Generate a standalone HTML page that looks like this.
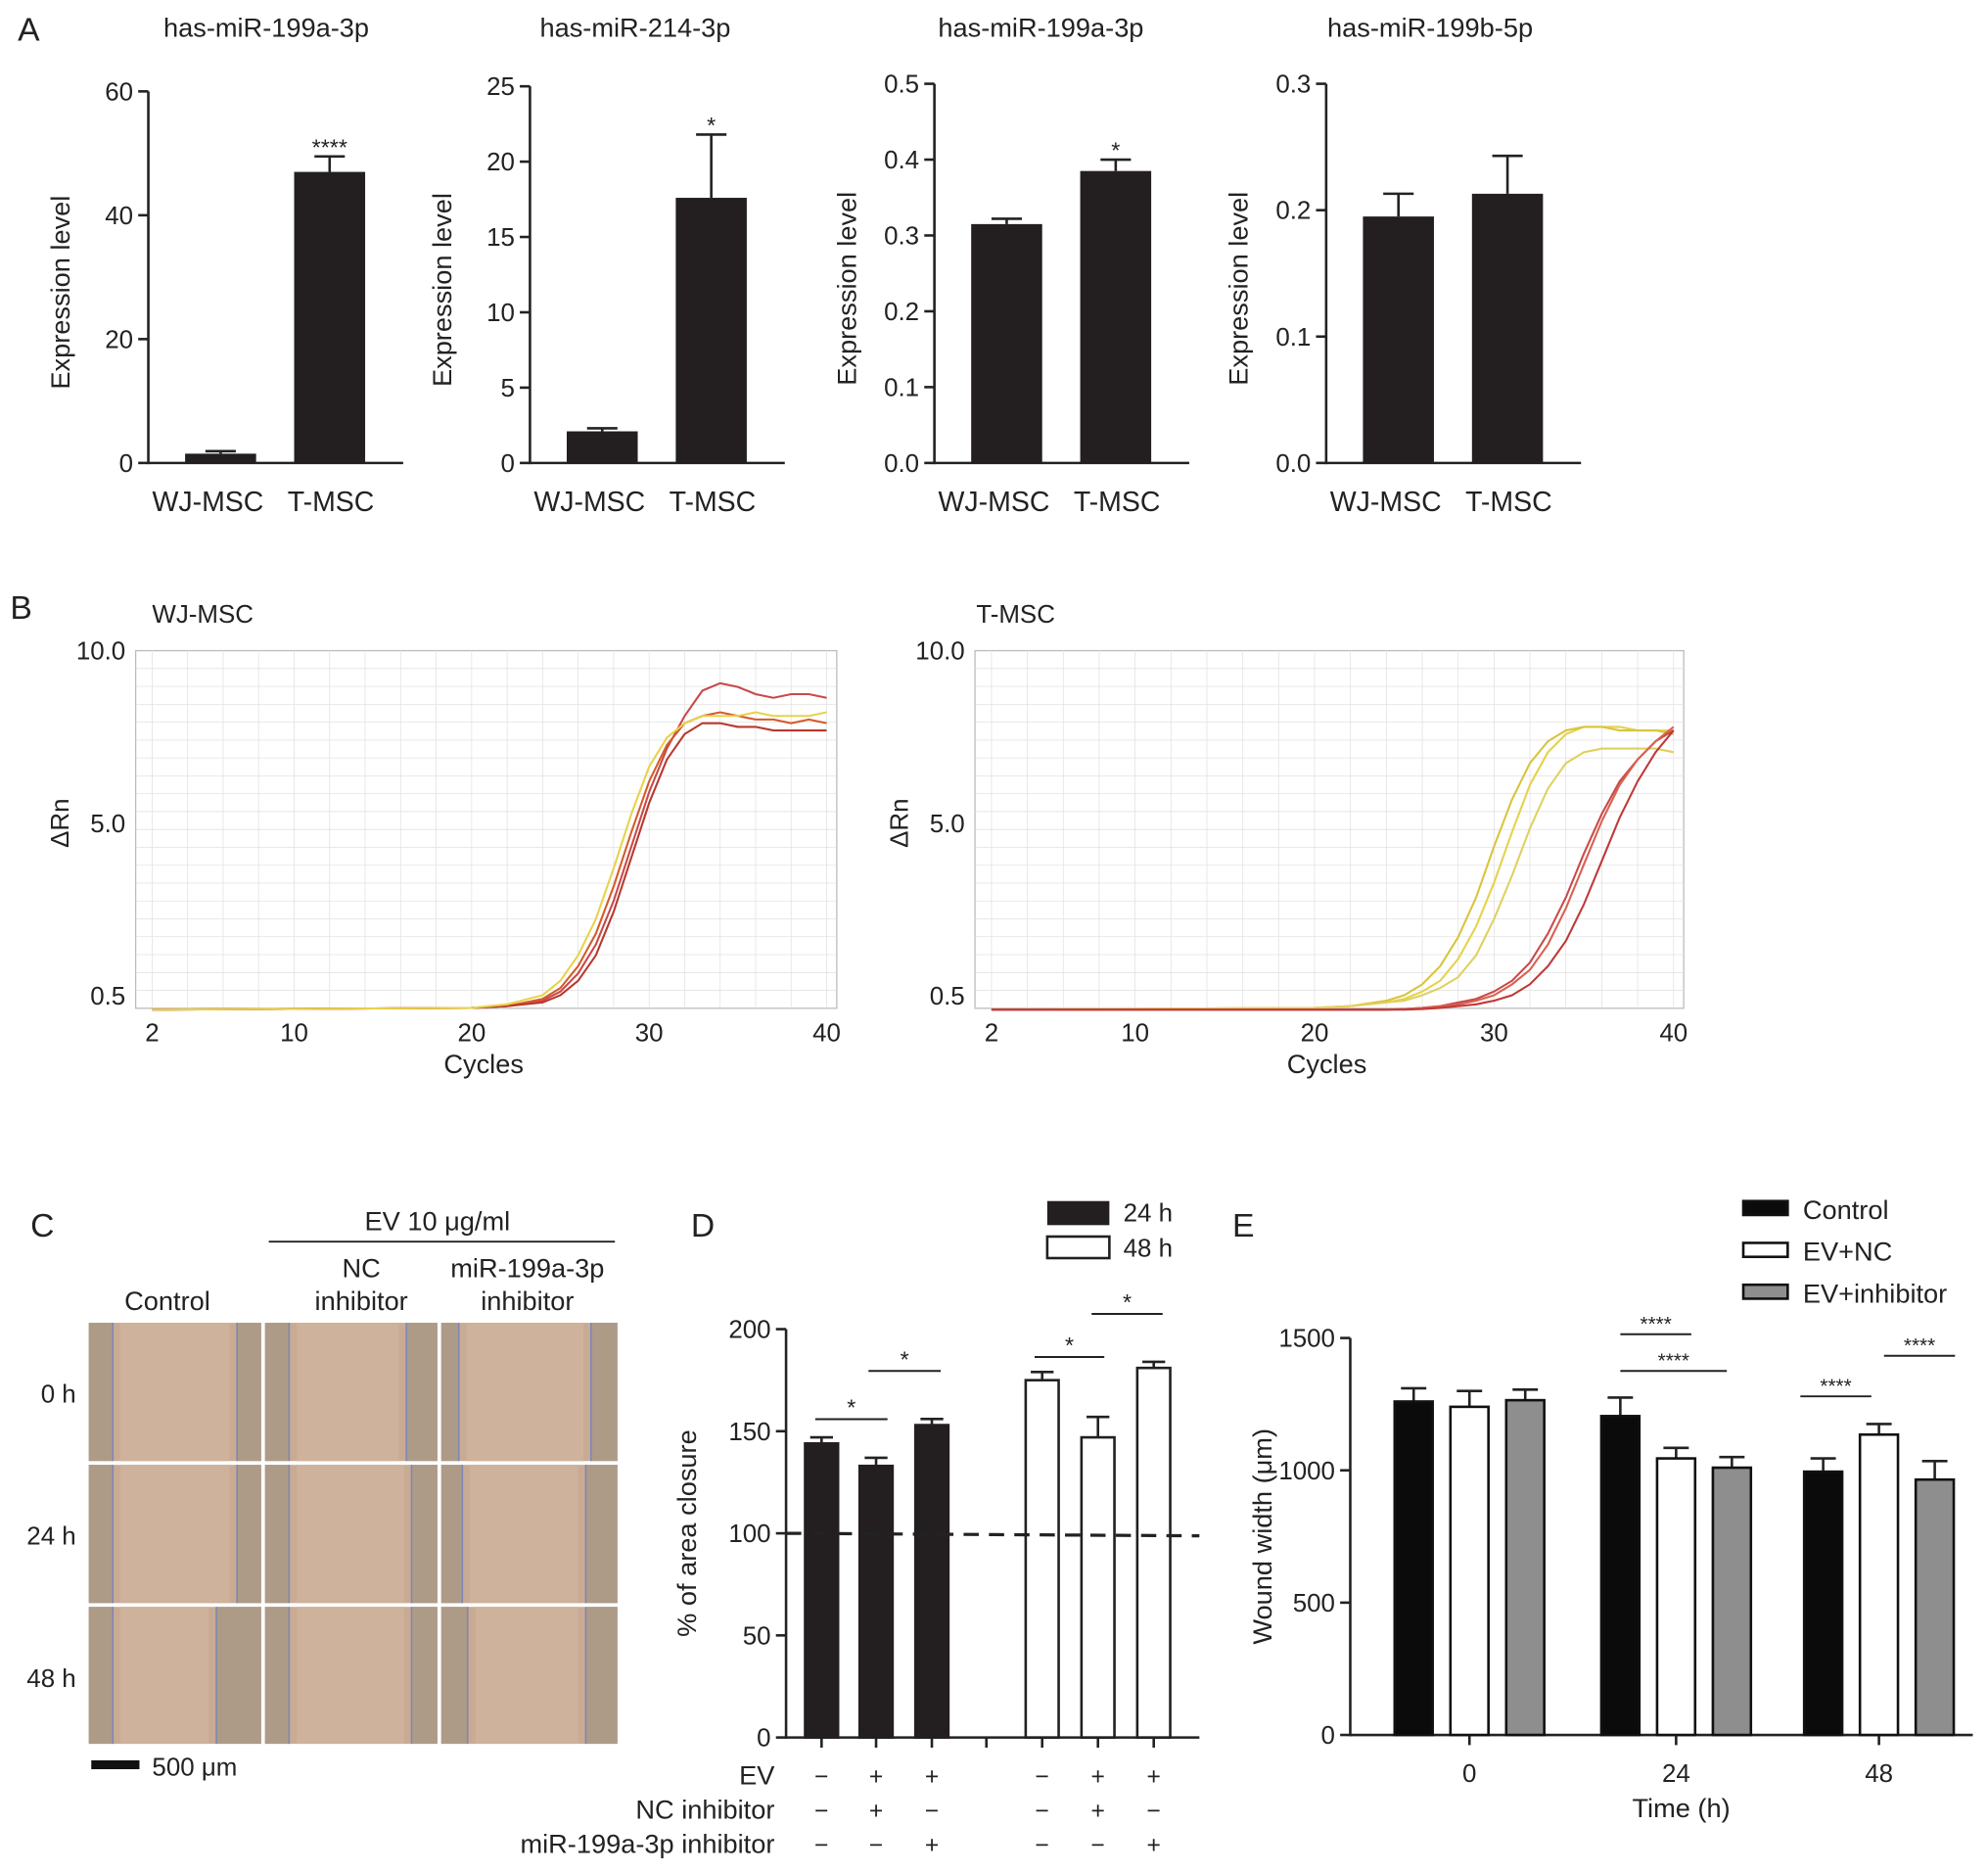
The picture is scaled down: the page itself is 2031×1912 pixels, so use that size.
<!DOCTYPE html>
<html><head><meta charset="utf-8"><style>
html,body{margin:0;padding:0;background:#fff}
svg{display:block}
text{font-family:"Liberation Sans",Arial,sans-serif;fill:#222}
</style></head><body>
<svg id="fig" width="2031" height="1912" viewBox="0 0 1568 1476" xmlns="http://www.w3.org/2000/svg">
<g id="root"></g>
</svg>
<script>
// ---------- DATA ----------
const aTitles = ["has-miR-199a-3p","has-miR-214-3p","has-miR-199a-3p","has-miR-199b-5p"];
const aCategories = ["WJ-MSC","T-MSC"];
const aValues = [[1.5,47],[2.1,17.6],[0.315,0.385],[0.195,0.213]];
const aErrors = [[1.9,49.5],[2.3,21.8],[0.322,0.4],[0.213,0.243]];
const aMax = [60,25,0.5,0.3];
const aTicks = [[0,20,40,60],[0,5,10,15,20,25],[0,0.1,0.2,0.3,0.4,0.5],[0,0.1,0.2,0.3]];
const aTickLabels = [["0","20","40","60"],["0","5","10","15","20","25"],["0.0","0.1","0.2","0.3","0.4","0.5"],["0.0","0.1","0.2","0.3"]];
const aStars = ["****","*","*",""];

const bCycles = [2,20,22,24,25,26,27,28,29,30,31,32,33,34,35,36,37,38,39,40];
const bWJ = [
 [0.1,0.15,0.2,0.35,0.6,1.1,1.9,3.1,4.6,6.1,7.3,8.2,8.9,9.1,9.0,8.8,8.7,8.8,8.8,8.7],
 [0.1,0.15,0.2,0.4,0.7,1.3,2.2,3.5,5.0,6.4,7.4,8.0,8.2,8.3,8.2,8.1,8.1,8.0,8.1,8.0],
 [0.1,0.15,0.2,0.3,0.5,0.9,1.6,2.8,4.3,5.8,7.0,7.7,8.0,8.0,7.9,7.9,7.8,7.8,7.8,7.8],
 [0.1,0.15,0.25,0.5,0.9,1.6,2.6,4.0,5.5,6.8,7.6,8.0,8.2,8.2,8.2,8.3,8.2,8.2,8.2,8.3]
];
const bWJColors = ["#c8494a","#d35a2a","#b8382e","#e8d24a"];
const bTM = [
 [0.1,0.15,0.2,0.3,0.4,0.6,0.9,1.5,2.4,3.6,5.0,6.3,7.2,7.7,7.9,7.9,7.9,7.8,7.8,7.8],
 [0.1,0.15,0.2,0.35,0.5,0.8,1.3,2.1,3.2,4.6,5.9,6.9,7.5,7.8,7.9,7.9,7.8,7.8,7.8,7.7],
 [0.1,0.15,0.2,0.3,0.35,0.5,0.7,1.0,1.6,2.6,3.8,5.1,6.2,6.9,7.2,7.3,7.3,7.3,7.3,7.2],
 [0.1,0.1,0.1,0.1,0.12,0.15,0.2,0.3,0.4,0.6,0.9,1.4,2.2,3.2,4.4,5.5,6.4,7.0,7.5,7.8],
 [0.1,0.1,0.1,0.1,0.12,0.15,0.2,0.25,0.35,0.5,0.8,1.2,1.9,2.9,4.1,5.3,6.3,7.0,7.5,7.9],
 [0.1,0.1,0.1,0.1,0.1,0.12,0.15,0.2,0.25,0.35,0.5,0.8,1.3,2.0,3.0,4.2,5.4,6.4,7.2,7.8]
];
const bTMColors = ["#e4d24a","#d8c43c","#e0d060","#c84a4a","#d86050","#c03838"];

const dValues = [144,133,153,175,147,181];
const dErrors = [147,137,156,179,157,184];
const dTicks = [0,50,100,150,200];
const dRows = [["EV","−","+","+","−","+","+"],["NC inhibitor","−","+","−","−","+","−"],["miR-199a-3p inhibitor","−","−","+","−","−","+"]];

const eGroups = ["0","24","48"];
const eSeries = ["Control","EV+NC","EV+inhibitor"];
const eValues = [[1260,1205,995],[1240,1045,1135],[1265,1010,965]];
const eErrors = [[1310,1275,1045],[1300,1085,1175],[1305,1050,1035]];
const eTicks = [0,500,1000,1500];

// ---------- HELPERS ----------
const NS="http://www.w3.org/2000/svg";
const root=document.getElementById('root');
function el(tag,attrs,parent,txt){const e=document.createElementNS(NS,tag);for(const k in attrs)e.setAttribute(k,attrs[k]);if(txt!==undefined)e.textContent=txt;(parent||root).appendChild(e);return e;}
function line(x1,y1,x2,y2,p,sw,col){return el('line',{x1,y1,x2,y2,stroke:col||'#222','stroke-width':sw||2},p);}
function txt(x,y,s,size,anchor,p,extra){const t=el('text',Object.assign({x,y,'font-size':size,'text-anchor':anchor||'middle'},extra||{}),p,s);return t;}

// panel letters
[["A",14,32],["B",8,488],["C",24,975],["D",545,975],["E",972,975]].forEach(l=>{
 const t=txt(l[1],l[2],l[0],26,'start');
 
 
});

// ---------- PANEL A ----------
const aAxisX=[117,418,737,1046];
const aTop=[72,68,66,66];
const aTitleX=[210,501,821,1128];
for(let i=0;i<4;i++){
 const g=el('g',{});
 
 
 const x0=aAxisX[i],y0=365,y1=aTop[i];
 const ys=v=>y0-(v/aMax[i])*(y0-y1);
 const tt=txt(aTitleX[i],29,aTitles[i],21,'middle',g);
 
 
 line(x0,y1,x0,y0+1,g);
 line(x0,y0,x0+201,y0,g);
 aTicks[i].forEach((t,k)=>{const y=ys(t);line(x0-8,y,x0,y,g);txt(x0-12,y+7,aTickLabels[i][k],20,'end',g);});
 const yt=txt(0,0,"Expression level",21,'middle',g,{transform:`translate(${x0-62},${(y0+y1)/2+12}) rotate(-90)`});
 
 
 aCategories.forEach((c,j)=>{
  const cx=x0+57+j*86, w=56;
  const top=ys(aValues[i][j]), et=ys(aErrors[i][j]);
  line(cx,et,cx,top,g,2);line(cx-12,et,cx+12,et,g,2);
  const b=el('rect',{x:cx-w/2,y:top,width:w,height:y0-top,fill:'#231f20'},g);
  
  
  txt(cx-(j?-1:10),y0+38,c,22,'middle',g);
  if(j===1&&aStars[i]) txt(cx,et-1,aStars[i],18,'middle',g,{fill:'#555'});
 });
}

// ---------- PANEL B ----------
function qpcr(px0,px1,titleX,title,data,colors,name){
 const g=el('g',{});
 
 
 const yT=513,yB=795;
 const xs=c=>px0+13+(c-2)*((px1-8-(px0+13))/38);
 const ys=v=>799-v*28.6;
 el('rect',{x:px0,y:yT,width:px1-px0,height:yB-yT,fill:'#fff',stroke:'#bbb','stroke-width':1},g);
 for(let c=2;c<=40;c+=2){line(xs(c),yT,xs(c),yB,g,0.6,'#e2e2e2');}
 for(let k=1;k<20;k++){const y=yT+k*(yB-yT)/20;line(px0,y,px1,y,g,0.6,'#e2e2e2');}
 [[10,513],[5,649],[0.5,785]].forEach(t=>txt(px0-8,t[1]+7,t[0].toFixed(1),20,'end',g));
 [2,10,20,30,40].forEach(c=>txt(xs(c),821,String(c),20,'middle',g));
 txt((px0+px1)/2-2,846,"Cycles",21,'middle',g);
 txt(0,0,"ΔRn",20,'middle',g,{transform:`translate(${px0-53},${649}) rotate(-90)`});
 txt(titleX,491,title,20,'start',g);
 data.forEach((s,k)=>{
  const d=s.map((v,j)=>(j?'L':'M')+xs(bCycles[j]).toFixed(1)+','+ys(v).toFixed(1)).join(' ');
  const p=el('path',{d,fill:'none',stroke:colors[k],'stroke-width':1.6},g);
  
  
 });
}
qpcr(107,660,120,"WJ-MSC",bWJ,bWJColors,'panel-b-wj-msc');
qpcr(769,1328,770,"T-MSC",bTM,bTMColors,'panel-b-t-msc');

// ---------- PANEL C ----------
(function(){
 const g=el('g',{});
 
 
 txt(345,970,"EV 10 μg/ml",21,'middle',g);
 line(212,979,485,979,g,1.5);
 txt(132,1033,"Control",21,'middle',g);
 txt(285,1007,"NC",21,'middle',g);txt(285,1033,"inhibitor",21,'middle',g);
 txt(416,1007,"miR-199a-3p",21,'middle',g);txt(416,1033,"inhibitor",21,'middle',g);
 const cols=[[70,206],[209,345],[348,487]],rows=[[1043,1152],[1155,1264],[1267,1375]];
 const rl=["0 h","24 h","48 h"];
 const gaps=[[[0.14,0.86],[0.14,0.82],[0.1,0.85]],[[0.14,0.86],[0.14,0.85],[0.12,0.82]],[[0.14,0.74],[0.14,0.85],[0.15,0.82]]];
 rows.forEach((r,i)=>{
  txt(60,r[0]+63,rl[i],20,'end',g);
  cols.forEach((c,j)=>{
   const w=c[1]-c[0],h=r[1]-r[0];
   const im=el('rect',{x:c[0],y:r[0],width:w,height:h,fill:'#c9ab94'},g);
   
   
   const [a,b]=gaps[i][j];
   el('rect',{x:c[0],y:r[0],width:w*a,height:h,fill:'#ad9b88'},g);
   el('rect',{x:c[0]+w*b,y:r[0],width:w*(1-b),height:h,fill:'#ad9b88'},g);
   el('rect',{x:c[0]+w*a+6,y:r[0],width:w*(b-a)-12,height:h,fill:'#cfb29b'},g);
   line(c[0]+w*a,r[0],c[0]+w*a,r[1],g,1.2,'#7d86b8');
   line(c[0]+w*b,r[0],c[0]+w*b,r[1],g,1.2,'#7d86b8');
  });
 });
 el('rect',{x:72,y:1388,width:38,height:7,fill:'#111'},g);
 txt(120,1400,"500 μm",20,'start',g);
})();

// ---------- PANEL D ----------
(function(){
 const g=el('g',{});
 
 
 const x0=620,y0=1370,yT=1048;
 const ys=v=>y0-v/200*(y0-yT);
 const cx=[648,691,735,822,866,910];
 line(x0,yT,x0,y0+1,g);line(x0,y0,946,y0,g);
 dTicks.forEach(t=>{line(x0-8,ys(t),x0,ys(t),g);txt(x0-12,ys(t)+7,String(t),20,'end',g);});
 cx.forEach(c=>line(c,y0,c,y0+8,g));line(778,y0,778,y0+8,g);
 txt(0,0,"% of area closure",21,'middle',g,{transform:`translate(549,${(y0+yT)/2}) rotate(-90)`});
 dValues.forEach((v,i)=>{
  const top=ys(v),et=ys(dErrors[i]);
  line(cx[i],et,cx[i],top,g,2);line(cx[i]-9,et,cx[i]+9,et,g,2);
  const b=el('rect',{x:cx[i]-13,y:top,width:26,height:y0-top,fill:i<3?'#231f20':'#fff',stroke:'#231f20','stroke-width':2},g);
  
  
 });
 line(x0,ys(100),946,ys(100)+2,g,2.5).setAttribute('stroke-dasharray','12,8');
 [[643,700,1119],[685,742,1081],[816,871,1070],[861,917,1036]].forEach(s=>{line(s[0],s[2],s[1],s[2],g,1.5);txt((s[0]+s[1])/2,s[2]-3,"*",18,'middle',g,{fill:'#555'});});
 dRows.forEach((r,k)=>{
  const y=1407+k*27;
  txt(611,y,r[0],21,'end',g);
  r.slice(1).forEach((s,i)=>txt(cx[i],y,s,19,'middle',g,{fill:'#555'}));
 });
 el('rect',{x:826,y:947,width:49,height:19,fill:'#231f20'},g);
 el('rect',{x:826,y:975,width:49,height:17,fill:'#fff',stroke:'#231f20','stroke-width':2},g);
 txt(886,963,"24 h",20,'start',g);txt(886,991,"48 h",20,'start',g);
})();

// ---------- PANEL E ----------
(function(){
 const g=el('g',{});
 
 
 const x0=1065,y0=1368,yT=1055;
 const ys=v=>y0-v/1500*(y0-yT);
 const fills=['#0b0b0b','#fff','#8e8e8e'];
 const gc=[1159,1322,1482];
 line(x0,yT,x0,y0+1,g);line(x0,y0,1556,y0,g);
 eTicks.forEach(t=>{line(x0-8,ys(t),x0,ys(t),g);txt(x0-12,ys(t)+7,String(t),20,'end',g);});
 txt(0,0,"Wound width (μm)",21,'middle',g,{transform:`translate(1003,${(y0+yT)/2}) rotate(-90)`});
 eGroups.forEach((gr,j)=>{
  line(gc[j],y0,gc[j],y0+8,g);
  txt(gc[j],y0+37,gr,20,'middle',g);
  eSeries.forEach((s,i)=>{
   const cx=gc[j]+(i-1)*44;
   const top=ys(eValues[i][j]),et=ys(eErrors[i][j]);
   line(cx,et,cx,top,g,2);line(cx-10,et,cx+10,et,g,2);
   const b=el('rect',{x:cx-15,y:top,width:30,height:y0-top,fill:fills[i],stroke:'#111','stroke-width':2},g);
   
   
  });
 });
 txt(1326,1433,"Time (h)",21,'middle',g);
 [[1278,1334,1052],[1278,1362,1081],[1420,1476,1101],[1486,1542,1069]].forEach(s=>{line(s[0],s[2],s[1],s[2],g,1.5);txt((s[0]+s[1])/2,s[2]-3,"****",16,'middle',g,{fill:'#555'});});
 eSeries.forEach((s,i)=>{
  const y=947+i*33;
  el('rect',{x:1375,y:y,width:35,height:11,fill:fills[i],stroke:'#111','stroke-width':2},g);
  const t=txt(1422,y+14,s,21,'start',g);
  
  
 });
})();
</script>
</body></html>
